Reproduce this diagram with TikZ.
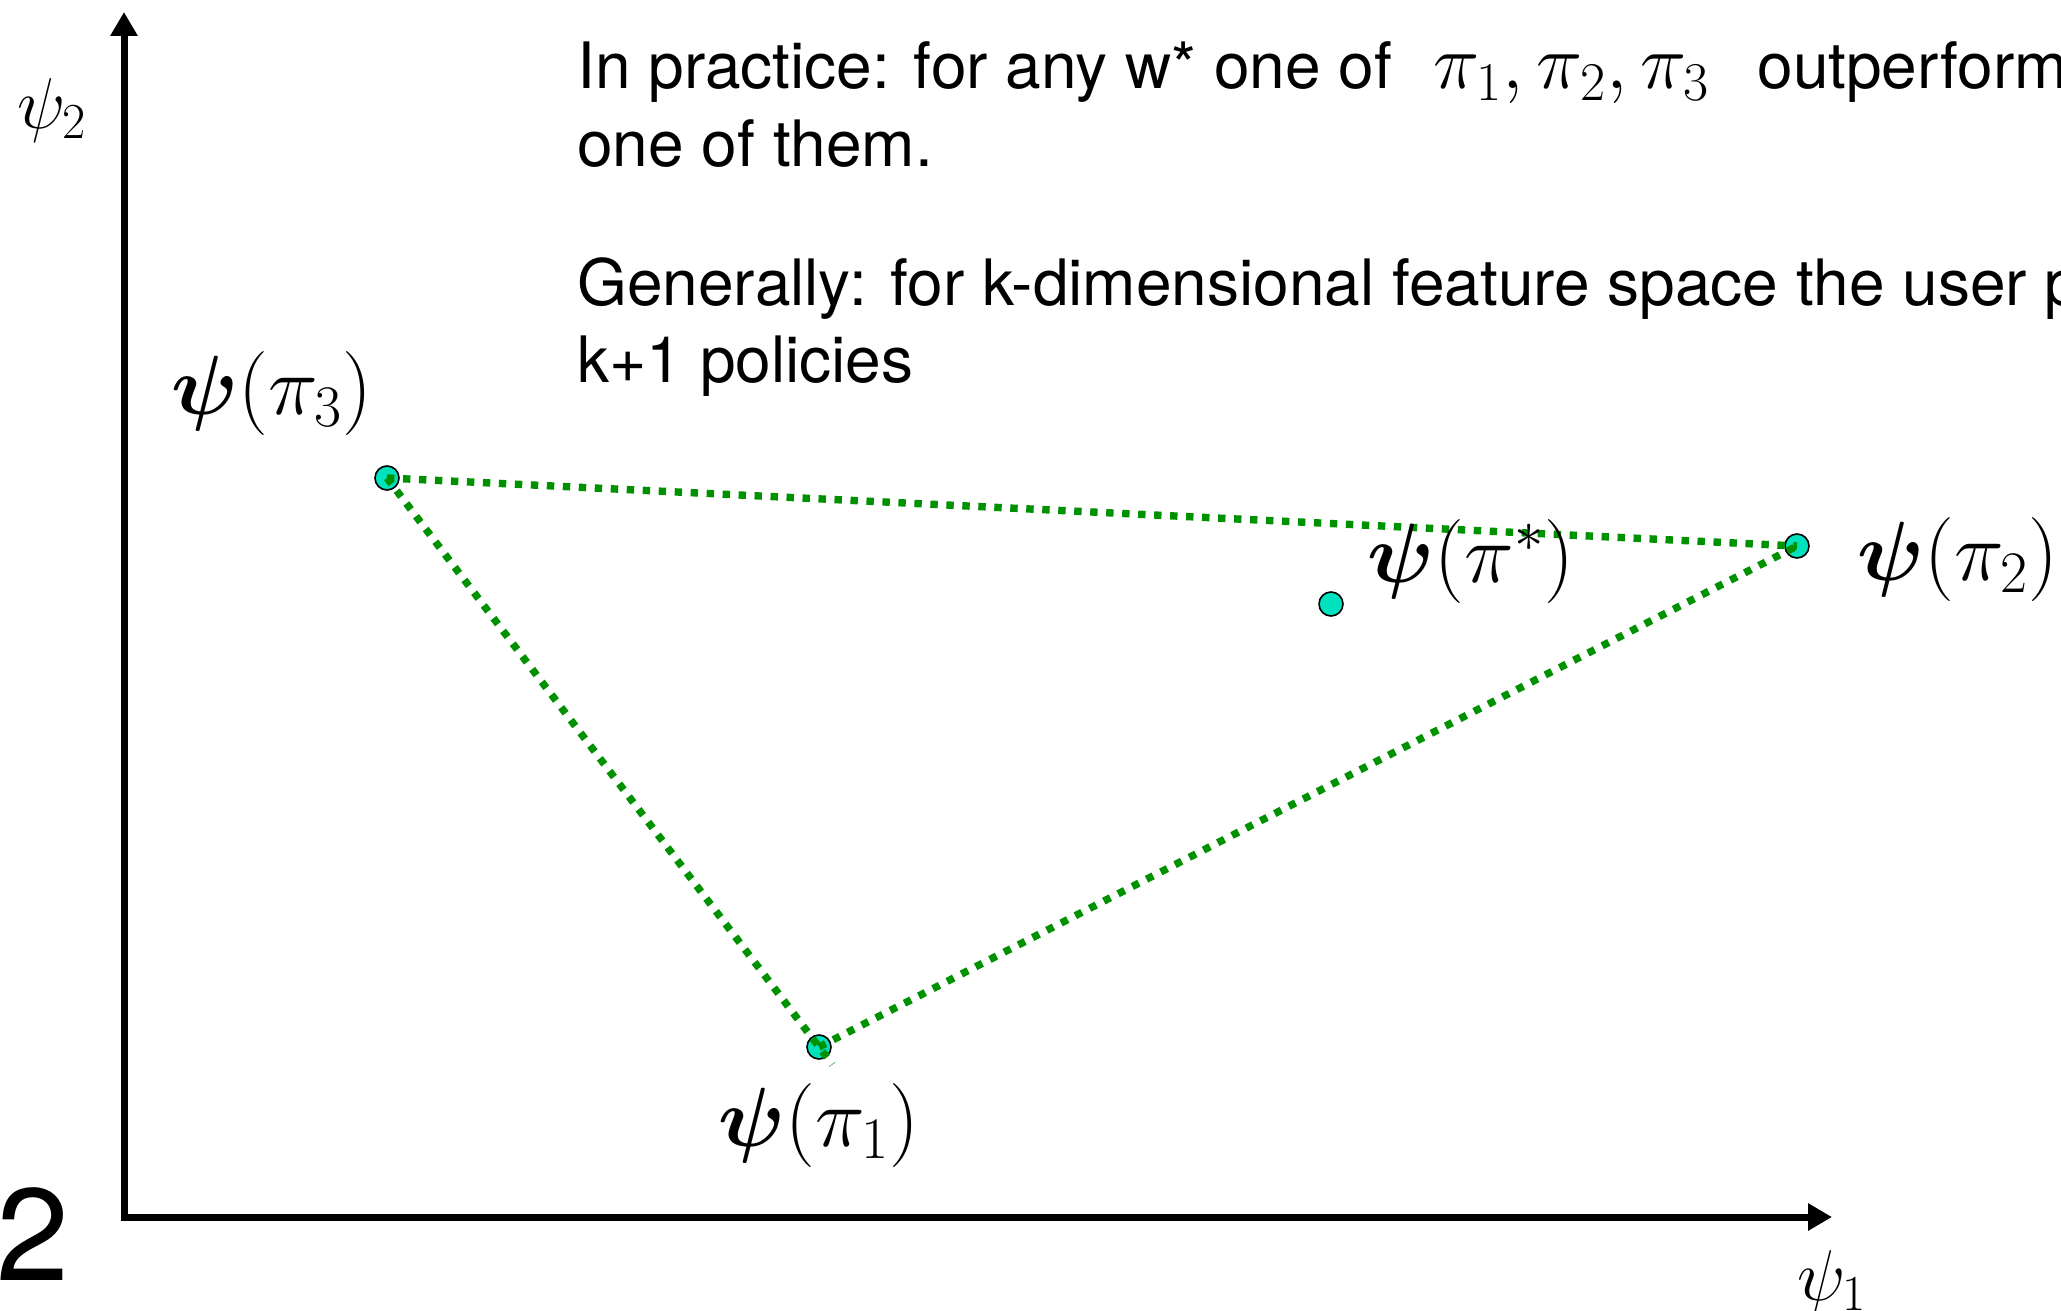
\documentclass[tikz,border=0pt]{standalone}
\usepackage{fix-cm}
\usepackage{fontspec}
\setsansfont{TeX Gyre Heros}
\usepackage{amsmath,bm}
\usetikzlibrary{arrows.meta}
\definecolor{dotgreen}{RGB}{0,145,0}
\definecolor{turq}{RGB}{0,226,190}
\begin{document}
\begin{tikzpicture}[x=0.5pt,y=-0.5pt,
  axis/.style={line width=3.5pt, -{Triangle[length=12pt,width=13pt]}},
  ptdot/.style={circle, draw=black, line width=0.8pt, fill=turq, minimum size=12pt, inner sep=0pt},
  edgeline/.style={dotgreen, line width=3.7pt, dash pattern=on 3.7pt off 4.3pt},
  lab/.style={inner sep=0pt, font=\fontsize{42}{50}\selectfont},
  axlab/.style={inner sep=0pt, font=\fontsize{36}{43}\selectfont},
  body/.style={inner sep=0pt, anchor=base west, font=\sffamily\fontsize{32}{38}\selectfont},
]
\useasboundingbox (0,0) rectangle (2061,1311);
\clip (0,0) rectangle (2061,1311);

% axes
\coordinate (o) at (124,1217);
\coordinate (ytip) at (124,12);
\coordinate (xtip) at (1832,1217);
\draw[axis, shorten <=-1.75pt] (o) -- (ytip);
\draw[axis] (o) -- (xtip);
\node[axlab] (y2) at (52,110) {$\psi_2$};
\node[axlab] (y1) at (1832,1282) {$\psi_1$};
\node[inner sep=0pt, font=\sffamily\fontsize{65.5}{70}\selectfont] (pg) at (33,1234) {2};

% points
\node[ptdot] (p3) at (387,478) {};
\node[ptdot] (p2) at (1797,546) {};
\node[ptdot] (p1) at (819,1047) {};
\node[ptdot] (ps) at (1331,604) {};

% triangle edges
\draw[edgeline] (p3.center) -- (p2.center);
\draw[edgeline, shorten >=-11pt] (p3.center) -- (p1.center);
\draw[edgeline] (p1.center) -- (p2.center);

% labels
\node[lab] (l3) at (272,393) {$\bm{\psi}(\pi_3)$};
\node[lab] (ls) at (1471,561) {$\bm{\psi}(\pi^*)$};
\node[lab] (l2) at (1958,559) {$\bm{\psi}(\pi_2)$};
\node[lab] (l1) at (819,1125) {$\bm{\psi}(\pi_1)$};

% text
\node[body] (t1a) at (577,89) {In practice: for any w* one of};
\node[body, font=\fontsize{39}{46}\selectfont] (t1m) at (1433,89) {$\pi_1, \pi_2, \pi_3$};
\node[body] (t1b) at (1757,89) {outperform};
\node[body] (t2) at (577,166) {one of them.};
\node[body] (t3) at (577,305) {Generally: for k-dimensional feature space the user p};
\node[body] (t4) at (577,382) {k+1 policies};
\end{tikzpicture}
\end{document}
